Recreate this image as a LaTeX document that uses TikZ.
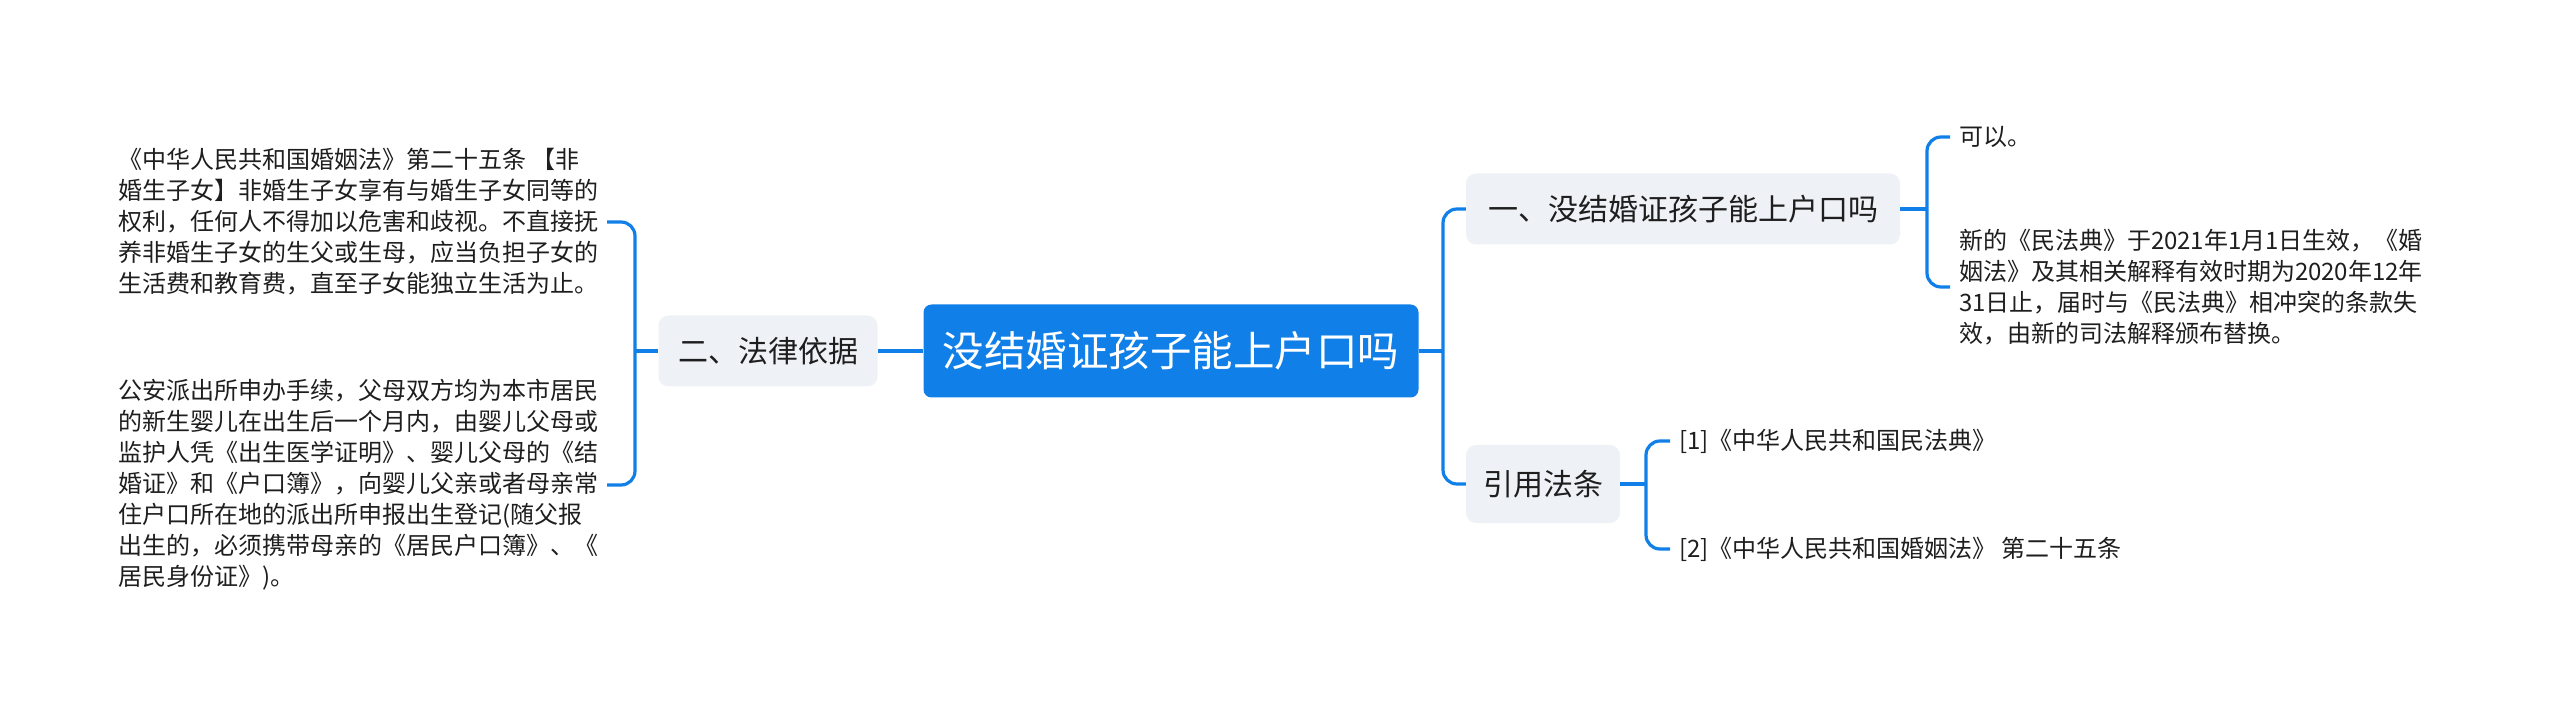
\documentclass[tikz,border=0pt]{standalone}
\usepackage{fontspec}
\setmainfont{Noto Sans CJK SC}
\definecolor{blau}{RGB}{16,128,232}
\definecolor{grau}{RGB}{238,241,246}
\definecolor{schrift}{RGB}{30,30,30}
\tikzset{%
		haupt/.style={fill=blau,text=white,rounded corners=8pt,minimum width=495pt,minimum height=93pt,font=\fontsize{41.5}{48}\selectfont},
		ast/.style={fill=grau,text=schrift,rounded corners=10pt,minimum height=71pt,inner xsep=16pt,font=\fontsize{30}{36}\selectfont},
		blatt/.style={text=schrift,align=left,inner sep=0pt,outer xsep=9pt,anchor=west,font=\fontsize{24}{31}\selectfont},
		linie/.style={draw=blau,line width=3.2pt,rounded corners=14pt}
	}

\begin{document}
\begin{tikzpicture}[x=1pt,y=-1pt]
    \useasboundingbox (0,0) rectangle (2560,708);
    % mitte und aeste
    \node[haupt] (root) at (1171,351) {没结婚证孩子能上户口吗};
    \node[ast,minimum width=219pt] (recht) at (768,351) {二、法律依据};
    \node[ast,minimum width=434pt] (frage) at (1683,209) {一、没结婚证孩子能上户口吗};
    \node[ast,minimum width=154pt,minimum height=78pt] (zitat) at (1543,484) {引用法条};
    % blaetter links
    \node[blatt] (artikel) at (109,222) {《中华人民共和国婚姻法》第二十五条 【非\\婚生子女】非婚生子女享有与婚生子女同等的\\权利，任何人不得加以危害和歧视。不直接抚\\养非婚生子女的生父或生母，应当负担子女的\\生活费和教育费，直至子女能独立生活为止。};
    \node[blatt] (ablauf) at (109,485) {公安派出所申办手续，父母双方均为本市居民\\的新生婴儿在出生后一个月内，由婴儿父母或\\监护人凭《出生医学证明》、婴儿父母的《结\\婚证》和《户口簿》，向婴儿父亲或者母亲常\\住户口所在地的派出所申报出生登记(随父报\\出生的，必须携带母亲的《居民户口簿》、《\\居民身份证》)。};
    % blaetter rechts
    \node[blatt] (kann) at (1950,137) {可以。};
    \node[blatt] (neu) at (1950,287) {新的《民法典》于2021年1月1日生效，《婚\\姻法》及其相关解释有效时期为2020年12年\\31日止，届时与《民法典》相冲突的条款失\\效，由新的司法解释颁布替换。};
    \node[blatt] (ref1) at (1670,441) {[1]《中华人民共和国民法典》};
    \node[blatt] (ref2) at (1670,549) {[2]《中华人民共和国婚姻法》 第二十五条};
    % verbindungen
    \coordinate (jl) at (635,351);
    \coordinate (jr) at (1443,351);
    \coordinate (jf) at (1927,209);
    \coordinate (jz) at (1646,484);
    \draw[linie] (recht) -- (root);
    \draw[linie] (artikel.east) -| (jl) |- (ablauf.east);
    \draw[linie] (jl) -- (recht.west);
    \draw[linie] (root.east) -- (jr);
    \draw[linie] (frage.west) -| (jr) |- (zitat.west);
    \draw[linie] (frage.east) -- (jf);
    \draw[linie] (kann.west) -| (jf) |- (neu.west);
    \draw[linie] (zitat.east) -- (jz);
    \draw[linie] (ref1.west) -| (jz) |- (ref2.west);
\end{tikzpicture}
\end{document}
